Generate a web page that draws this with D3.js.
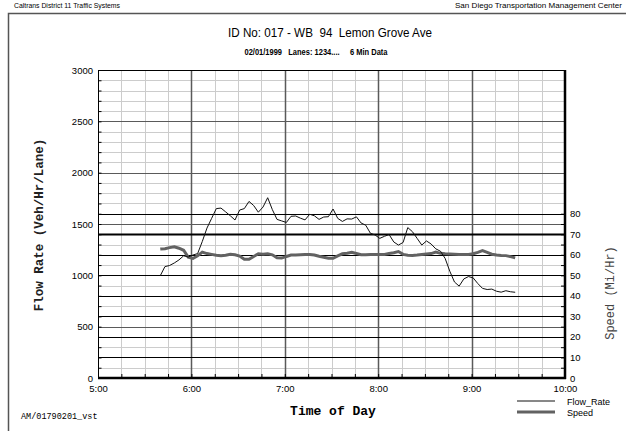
<!DOCTYPE html>
<html>
<head>
<meta charset="utf-8">
<script src="https://cdn.jsdelivr.net/npm/d3@7"></script>
<style>
  body { margin: 0; background: #fff; }
  svg { display: block; }
  text { white-space: pre; }
</style>
</head>
<body>
<div id="chart"></div>
<script>
// 6 min data, one value every 3 minutes
var times = ["5:40","5:43","5:46","5:49","5:52","5:55","5:58","6:01","6:04","6:07",
  "6:10","6:13","6:16","6:19","6:22","6:25","6:28","6:31","6:34","6:37",
  "6:40","6:43","6:46","6:49","6:52","6:55","6:58","7:01","7:04","7:07",
  "7:10","7:13","7:16","7:19","7:22","7:25","7:28","7:31","7:34","7:37",
  "7:40","7:43","7:46","7:49","7:52","7:55","7:58","8:01","8:04","8:07",
  "8:10","8:13","8:16","8:19","8:22","8:25","8:28","8:31","8:34","8:37",
  "8:40","8:43","8:46","8:49","8:52","8:55","8:58","9:01","9:04","9:07",
  "9:10","9:13","9:16","9:19","9:22","9:25","9:28"];

var flowRate = [996,1085,1096,1120,1150,1190,1178,1198,1212,1330,
  1460,1555,1650,1655,1618,1580,1539,1636,1650,1720,
  1680,1615,1665,1756,1640,1545,1530,1515,1575,1578,
  1557,1540,1595,1580,1545,1568,1571,1646,1555,1525,
  1550,1548,1570,1510,1488,1410,1393,1360,1380,1397,
  1325,1295,1320,1465,1425,1360,1295,1335,1305,1258,
  1235,1165,1040,935,895,965,988,975,920,873,
  862,866,845,836,850,840,835];

var speed = [62.8,63.0,63.5,63.9,63.2,62.2,58.8,58.2,59.5,61.3,
  60.6,60.2,59.8,59.5,59.8,60.3,60.0,59.4,57.8,57.8,
  59.2,60.5,60.3,60.5,60.0,58.6,58.4,59.2,59.9,59.9,
  60.0,60.1,60.2,59.9,59.3,58.8,58.3,58.3,59.5,60.5,
  60.8,61.2,60.6,60.0,60.0,60.2,60.1,60.1,60.2,60.6,
  61.0,61.6,60.2,59.8,59.7,59.9,60.2,60.4,60.6,61.3,
  60.7,60.5,60.4,60.3,60.2,60.2,60.2,60.5,61.2,62.0,
  61.2,60.3,59.9,59.7,59.6,59.1,58.5];

var hourLabels = ["5:00","6:00","7:00","8:00","9:00","10:00"];
var flowTicks = [0, 500, 1000, 1500, 2000, 2500, 3000];
var speedTicks = [0, 10, 20, 30, 40, 50, 60, 70, 80];

var width = 626, height = 431;
var plotLeft = 98, plotRight = 565, plotTop = 70, plotBottom = 378;

function toMin(s) {
  var p = s.split(":");
  return +p[0] * 60 + +p[1];
}

var svg = d3.select("#chart").append("svg")
  .attr("width", width)
  .attr("height", height)
  .style("font-family", "Liberation Sans, Arial, sans-serif");

var x = d3.scaleLinear().domain([300, 600]).range([plotLeft, plotRight]);
var yFlow = d3.scaleLinear().domain([0, 3000]).range([plotBottom, plotTop]);
var ySpeed = d3.scaleLinear().domain([0, 150]).range([plotBottom, plotTop]);

// page border
svg.append("path")
  .attr("d", "M8.5," + height + "V13.5H" + width)
  .attr("fill", "none")
  .attr("stroke", "#555")
  .attr("stroke-width", 1.5);

// header texts
svg.append("text").attr("x", 14).attr("y", 8)
  .attr("font-size", 6.5).attr("textLength", 106).attr("lengthAdjust", "spacingAndGlyphs")
  .text("Caltrans District 11 Traffic Systems");
svg.append("text").attr("x", 622).attr("y", 8).attr("text-anchor", "end")
  .attr("font-size", 6.5).attr("textLength", 167).attr("lengthAdjust", "spacingAndGlyphs")
  .text("San Diego Transportation Management Center");

svg.append("text").attr("x", 330).attr("y", 37).attr("text-anchor", "middle")
  .attr("font-size", 12.5).attr("textLength", 204).attr("lengthAdjust", "spacingAndGlyphs")
  .text("ID No: 017 - WB  94  Lemon Grove Ave");
svg.append("text").attr("x", 316).attr("y", 55).attr("text-anchor", "middle")
  .attr("font-size", 9).attr("font-weight", "bold")
  .attr("textLength", 143).attr("lengthAdjust", "spacingAndGlyphs")
  .text("02/01/1999   Lanes: 1234....     6 Min Data");

// grid
var g = svg.append("g");

g.selectAll(".hminor").data(d3.range(100, 3000, 100)).enter().append("line")
  .attr("x1", plotLeft).attr("x2", plotRight)
  .attr("y1", function(d) { return Math.round(yFlow(d)) + 0.5; })
  .attr("y2", function(d) { return Math.round(yFlow(d)) + 0.5; })
  .attr("stroke", "#cccccc");

g.selectAll(".vminor").data(d3.range(315, 600, 15)).enter().append("line")
  .attr("y1", plotTop).attr("y2", plotBottom)
  .attr("x1", function(d) { return Math.round(x(d)) + 0.5; })
  .attr("x2", function(d) { return Math.round(x(d)) + 0.5; })
  .attr("stroke", "#cccccc");

g.selectAll(".hmajor").data([500, 1000, 1500, 2000, 2500]).enter().append("line")
  .attr("x1", plotLeft).attr("x2", plotRight)
  .attr("y1", function(d) { return Math.round(yFlow(d)) + 0.5; })
  .attr("y2", function(d) { return Math.round(yFlow(d)) + 0.5; })
  .attr("stroke", "#5a5a5a");

g.selectAll(".vmajor").data([360, 420, 480, 540]).enter().append("line")
  .attr("y1", plotTop).attr("y2", plotBottom)
  .attr("x1", function(d) { return Math.round(x(d)) + 0.5; })
  .attr("x2", function(d) { return Math.round(x(d)) + 0.5; })
  .attr("stroke", "#5a5a5a")
  .attr("stroke-width", 1.5);

g.selectAll(".sgrid").data(speedTicks.slice(1)).enter().append("line")
  .attr("x1", plotLeft).attr("x2", plotRight)
  .attr("y1", function(d) { return Math.round(ySpeed(d)) + 0.5; })
  .attr("y2", function(d) { return Math.round(ySpeed(d)) + 0.5; })
  .attr("stroke", "#000")
  .attr("stroke-width", function(d) { return d == 70 ? 2 : 1; });

// inner ticks
svg.append("g").attr("transform", "translate(" + (plotLeft + 0.5) + ",0)")
  .call(d3.axisRight(yFlow).tickValues(d3.range(0, 3001, 100)).tickSize(3).tickFormat(""))
  .call(function(a) { a.select(".domain").remove(); });
svg.append("g").attr("transform", "translate(0," + plotBottom + ")")
  .call(d3.axisTop(x).tickValues(d3.range(300, 601, 15)).tickSize(4).tickFormat(""))
  .call(function(a) { a.select(".domain").remove(); });
svg.append("g").attr("transform", "translate(" + plotRight + ",0)")
  .call(d3.axisLeft(ySpeed).tickValues(d3.range(0, 81, 5)).tickSize(4).tickFormat(""))
  .call(function(a) { a.select(".domain").remove(); });

// tick labels
var leftAxis = svg.append("g").attr("transform", "translate(" + plotLeft + ",0)")
  .call(d3.axisLeft(yFlow).tickValues(flowTicks).tickSize(0).tickPadding(5)
    .tickFormat(d3.format("d")));
leftAxis.select(".domain").remove();

var bottomAxis = svg.append("g").attr("transform", "translate(0," + plotBottom + ")")
  .call(d3.axisBottom(x).tickValues(hourLabels.map(toMin)).tickSize(0).tickPadding(7)
    .tickFormat(function(d, i) { return hourLabels[i]; }));
bottomAxis.select(".domain").remove();

var rightAxis = svg.append("g").attr("transform", "translate(" + plotRight + ",0)")
  .call(d3.axisRight(ySpeed).tickValues(speedTicks).tickSize(0).tickPadding(5));
rightAxis.select(".domain").remove();

svg.selectAll(".tick text")
  .attr("font-family", "Liberation Sans, Arial, sans-serif")
  .attr("font-size", 9.5)
  .attr("fill", "#000");

// frame
svg.append("line").attr("x1", plotLeft + 0.5).attr("x2", plotLeft + 0.5).attr("y1", plotTop).attr("y2", plotBottom)
  .attr("stroke", "#000");
svg.append("line").attr("x1", plotLeft).attr("x2", plotRight).attr("y1", plotTop + 0.5).attr("y2", plotTop + 0.5)
  .attr("stroke", "#000");
svg.append("line").attr("x1", plotRight).attr("x2", plotRight).attr("y1", plotTop).attr("y2", plotBottom + 1)
  .attr("stroke", "#000").attr("stroke-width", 2.5);
svg.append("line").attr("x1", plotLeft).attr("x2", plotRight + 1).attr("y1", plotBottom).attr("y2", plotBottom)
  .attr("stroke", "#000").attr("stroke-width", 2.5);

// series
var speedLine = d3.line()
  .x(function(d, i) { return x(toMin(times[i])); })
  .y(function(d) { return ySpeed(d); });
var flowLine = d3.line()
  .x(function(d, i) { return x(toMin(times[i])); })
  .y(function(d) { return yFlow(d); });

svg.append("path").datum(speed)
  .attr("d", speedLine)
  .attr("fill", "none")
  .attr("stroke", "#626262")
  .attr("stroke-width", 3);

svg.append("path").datum(flowRate)
  .attr("d", flowLine)
  .attr("fill", "none")
  .attr("stroke", "#111")
  .attr("stroke-width", 1);

// axis titles
svg.append("text")
  .attr("transform", "translate(43,225) rotate(-90)")
  .attr("text-anchor", "middle")
  .attr("font-family", "Liberation Mono, Courier New, monospace")
  .attr("font-weight", "bold")
  .attr("font-size", 12.5)
  .attr("fill", "#222")
  .text("Flow Rate (Veh/Hr/Lane)");

svg.append("text")
  .attr("transform", "translate(614,293) rotate(-90)")
  .attr("text-anchor", "middle")
  .attr("font-family", "Liberation Mono, Courier New, monospace")
  .attr("font-size", 12)
  .attr("fill", "#444")
  .text("Speed (Mi/Hr)");

svg.append("text")
  .attr("x", 333).attr("y", 415)
  .attr("text-anchor", "middle")
  .attr("font-family", "Liberation Mono, Courier New, monospace")
  .attr("font-weight", "bold")
  .attr("font-size", 13)
  .text("Time of Day");

svg.append("text")
  .attr("x", 21).attr("y", 419)
  .attr("font-family", "Liberation Mono, Courier New, monospace")
  .attr("font-size", 8.5)
  .text("AM/01790201_vst");

// legend
var legend = [
  { name: "Flow_Rate", color: "#111", w: 1 },
  { name: "Speed", color: "#626262", w: 3 }
];
var lg = svg.selectAll(".legend").data(legend).enter().append("g")
  .attr("transform", function(d, i) { return "translate(517," + (401 + i * 11) + ")"; });
lg.append("line").attr("x1", 0).attr("x2", 38)
  .attr("stroke", function(d) { return d.color; })
  .attr("stroke-width", function(d) { return d.w; });
lg.append("text").attr("x", 50).attr("y", 3.5)
  .attr("font-size", 9)
  .text(function(d) { return d.name; });
</script>
</body>
</html>
